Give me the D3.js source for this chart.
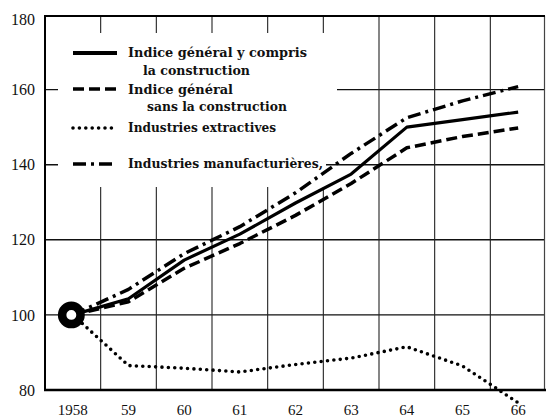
<!DOCTYPE html>
<html>
<head>
<meta charset="utf-8">
<script src="https://cdn.jsdelivr.net/npm/d3@7"></script>
<style>
  html, body { margin: 0; padding: 0; background: #fff; }
  svg { display: block; }
</style>
</head>
<body>
<script>
// ---- data ----
const years = ["1958", "59", "60", "61", "62", "63", "64", "65", "66"];
const yTicks = [80, 100, 120, 140, 160, 180];
const generalAvec = [100, 104.3, 114.6, 121.5, 129.8, 137.5, 150, 152, 154];
const generalSans = [100, 103.5, 112.4, 119, 126.5, 135, 144.5, 147.5, 149.8];
const extractives = [100, 86.5, 85.8, 84.8, 86.8, 88.5, 91.5, 86.4, 76.6];
const manufacturieres = [100, 106.8, 116.3, 123.5, 132.5, 143, 152.5, 157, 160.8];
const legendLabels = [
  ["Indice général y compris", "la construction"],
  ["Indice général", "sans la construction"],
  ["Industries extractives"],
  ["Industries manufacturières,"]
];

const W = 546, H = 419;
const svg = d3.select("body").append("svg").attr("width", W).attr("height", H);

const x = d3.scaleBand().domain(years).range([45, 546]).padding(0);
const y = d3.scaleLinear().domain([80, 180]).range([390, 14.5]);
const cx = d => x(d) + x.bandwidth() / 2;

// ---- grid ----
const g = svg.append("g");
g.selectAll("line.h").data([100, 120, 140, 160]).enter().append("line")
  .attr("x1", 45).attr("x2", 545)
  .attr("y1", d => y(d)).attr("y2", d => y(d))
  .attr("stroke", "#111").attr("stroke-width", 1.4);
g.selectAll("line.v").data(years.slice(1)).enter().append("line")
  .attr("x1", d => x(d)).attr("x2", d => x(d))
  .attr("y1", 16).attr("y2", 390)
  .attr("stroke", "#222").attr("stroke-width", 1.1);
g.append("line").attr("x1", 544.5).attr("x2", 544.5).attr("y1", 16).attr("y2", 390)
  .attr("stroke", "#444").attr("stroke-width", 1.2);

// legend mask (white box hiding grid)
svg.append("rect").attr("x", 58).attr("y", 33).attr("width", 268).attr("height", 154).attr("fill", "#fff");
svg.append("rect").attr("x", 326).attr("y", y(160) - 4).attr("width", 11).attr("height", 8).attr("fill", "#fff");

// frame: top, left, bottom
svg.append("line").attr("x1", 44).attr("x2", 545).attr("y1", 16).attr("y2", 16)
  .attr("stroke", "#000").attr("stroke-width", 2.2);
svg.append("line").attr("x1", 45).attr("x2", 45).attr("y1", 15).attr("y2", 391)
  .attr("stroke", "#000").attr("stroke-width", 2);
svg.append("line").attr("x1", 44).attr("x2", 546).attr("y1", 390).attr("y2", 390)
  .attr("stroke", "#000").attr("stroke-width", 2.6);

// ---- axes ----
const yAxis = svg.append("g").attr("transform", "translate(45,0)")
  .call(d3.axisLeft(y).tickValues(yTicks).tickSize(0).tickPadding(10).tickFormat(d3.format("d")));
yAxis.select(".domain").remove();
yAxis.selectAll("text")
  .attr("font-family", "'Liberation Serif', 'Times New Roman', serif")
  .attr("font-size", 16).attr("fill", "#111");
yAxis.selectAll(".tick").filter(d => d === 180).select("text").attr("dy", "0.65em");

const xAxis = svg.append("g").attr("transform", "translate(0,390)")
  .call(d3.axisBottom(x).tickSize(0));
xAxis.select(".domain").remove();
xAxis.selectAll("text")
  .attr("y", 25).attr("dy", 0)
  .attr("font-family", "'Liberation Serif', 'Times New Roman', serif")
  .attr("font-size", 15).attr("fill", "#111");

// ---- series ----
const styles = [
  { data: generalAvec, width: 3.2, dash: null, cap: "butt" },
  { data: generalSans, width: 3.5, dash: "11,5", cap: "butt" },
  { data: extractives, width: 3.6, dash: "0,6.4", cap: "round" },
  { data: manufacturieres, width: 3.5, dash: "13,5,3,5", cap: "butt" }
];
const line = d3.line().x((d, i) => cx(years[i])).y(d => y(d));
styles.forEach(s => {
  svg.append("path").datum(s.data)
    .attr("d", line)
    .attr("fill", "none").attr("stroke", "#000")
    .attr("stroke-width", s.width)
    .attr("stroke-linecap", s.cap)
    .attr("stroke-linejoin", "round")
    .attr("stroke-dasharray", s.dash);
});

// starting ring
svg.append("circle").attr("cx", cx(years[0]) - 1.5).attr("cy", y(100)).attr("r", 9.2)
  .attr("fill", "#fff").attr("stroke", "#000").attr("stroke-width", 8.5);

// ---- legend ----
const legY = [53, 89, 128, 164];
const legBase = [[57, 75], [94, 111], [132], [168]];
const legIndent = [[128, 143], [128, 147]];
const legWidths = [[179, 107], [105, 140], [148], [195]];
const leg = svg.append("g");
styles.forEach((s, i) => {
  leg.append("line")
    .attr("x1", 73).attr("x2", 117).attr("y1", legY[i]).attr("y2", legY[i])
    .attr("stroke", "#000").attr("stroke-width", i === 0 ? 3.8 : s.width)
    .attr("stroke-linecap", s.cap)
    .attr("stroke-dasharray", s.dash);
  legendLabels[i].forEach((t, j) => {
    leg.append("text")
      .attr("x", legIndent[i] ? legIndent[i][j] : 128)
      .attr("y", legBase[i][j])
      .attr("font-family", "'DejaVu Serif', serif")
      .attr("font-weight", "bold")
      .attr("font-size", 13.5)
      .attr("fill", "#111")
      .attr("textLength", legWidths[i][j])
      .attr("lengthAdjust", "spacingAndGlyphs")
      .text(t);
  });
});
</script>
</body>
</html>
